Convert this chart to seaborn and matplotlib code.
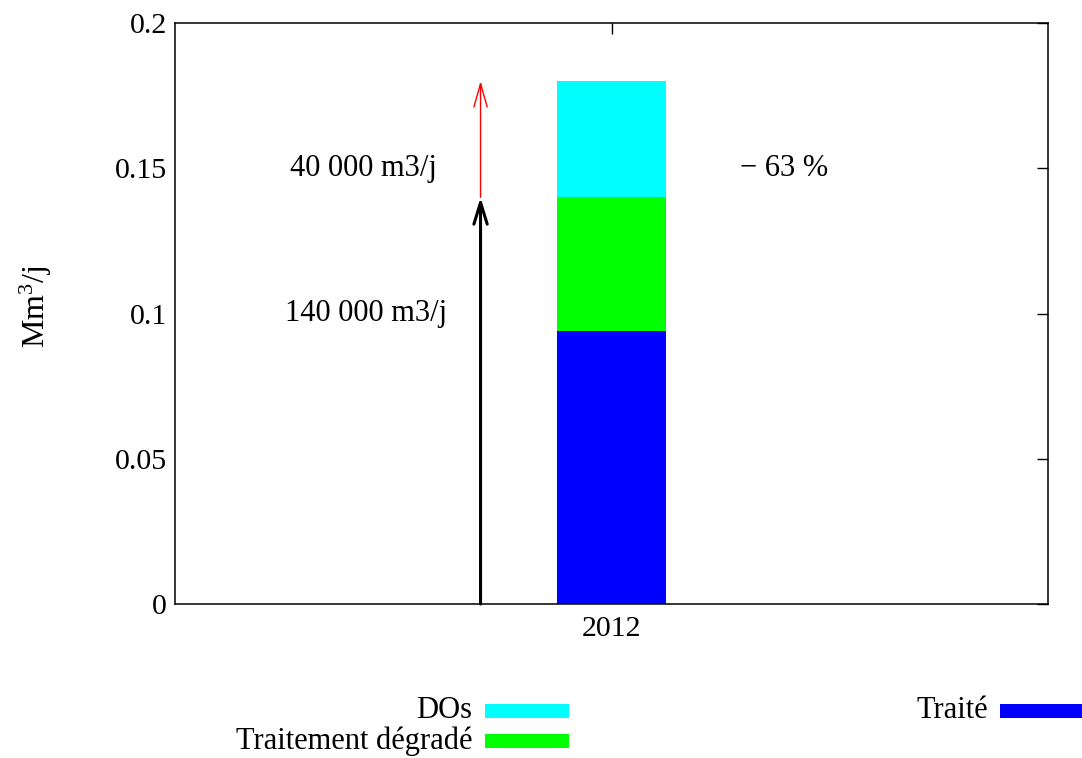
import matplotlib
matplotlib.use("Agg")
import matplotlib.pyplot as plt
from matplotlib.patches import Rectangle
import pandas as pd
import seaborn as sns

# Daily volumes in Mm3/j for 2012
years = ["2012"]
traite = [0.094]
traitement_degrade = [0.046]
dos = [0.040]
series_labels = ["DOs", "Traitement dégradé", "Traité"]
series_colors = ["#00ffff", "#00ff00", "#0000ff"]

sns.set_theme(style="white")
plt.rcParams["font.family"] = ["Liberation Serif", "DejaVu Serif"]
plt.rcParams["mathtext.default"] = "regular"
plt.rcParams["text.color"] = "black"
plt.rcParams["axes.labelcolor"] = "black"

df = pd.DataFrame({
    "annee": years,
    "traite": traite,
    "degrade": traitement_degrade,
    "dos": dos,
})
# cumulative heights, drawn from the tallest down
df["top_degrade"] = df["traite"] + df["degrade"]
df["top_dos"] = df["top_degrade"] + df["dos"]

fig = plt.figure(figsize=(10.82, 7.58), dpi=100)
ax = fig.add_axes([175 / 1082, 1 - 604 / 758, (1048 - 175) / 1082, 581 / 758])

for col, color in zip(["top_dos", "top_degrade", "traite"], series_colors):
    sns.barplot(data=df, x="annee", y=col, color=color, saturation=1,
                width=0.25, edgecolor="none", linewidth=0, ax=ax, zorder=3)

TICK_FS = 21.5
TEXT_FS = 22

ax.set_xlim(-1, 1)
ax.set_ylim(0, 0.2)
ax.set_yticks([0, 0.05, 0.1, 0.15, 0.2])
ax.set_yticklabels(["0", "0.05", "0.1", "0.15", "0.2"])
ax.set_xlabel("")
ax.set_ylabel("Mm$^{3}$/j", fontsize=23)
ax.yaxis.set_label_coords(-0.139, 0.512)
ax.tick_params(axis="both", which="both", direction="in", length=8, width=1,
               labelsize=TICK_FS, top=True, right=True, pad=6, colors="black")
ax.tick_params(axis="x", pad=9)
for s in ax.spines.values():
    s.set_visible(True)
    s.set_color("black")
    s.set_linewidth(1.1)
    s.set_zorder(5)

# arrows: treated capacity and excess volume
total_treated = traite[0] + traitement_degrade[0]
ax.annotate("", xy=(-0.3, total_treated), xytext=(-0.3, 0),
            arrowprops=dict(arrowstyle="->,head_length=1.3,head_width=0.4",
                            color="black", lw=2.2, shrinkA=0, shrinkB=0),
            zorder=4)
ax.annotate("", xy=(-0.3, total_treated + dos[0]), xytext=(-0.3, total_treated),
            arrowprops=dict(arrowstyle="->,head_length=1.4,head_width=0.4",
                            color="red", lw=1.0, shrinkA=0, shrinkB=0),
            zorder=4)

ax.text(-0.569, 0.15, "40 000 m3/j", fontsize=TEXT_FS, ha="center", va="center")
ax.text(-0.563, 0.1, "140 000 m3/j", fontsize=TEXT_FS, ha="center", va="center")
ax.text(0.294, 0.15, "\u2212 63 %", fontsize=TEXT_FS, ha="left", va="center")

# legend, gnuplot-like layout below the plot
W, H = 1082, 758
legend_rows = [
    (series_labels[0], series_colors[0], 472, 485, 711),
    (series_labels[1], series_colors[1], 472, 485, 741),
    (series_labels[2], series_colors[2], 988, 1000, 711),
]
for label, color, tx, bx, yc in legend_rows:
    fig.text(tx / W, 1 - yc / H, label, fontsize=TEXT_FS, ha="right", va="center")
    fig.patches.append(Rectangle((bx / W, 1 - (yc + 7) / H), 84 / W, 14 / H,
                                 transform=fig.transFigure, facecolor=color,
                                 edgecolor="none"))

fig.savefig("out.png", dpi=100)
